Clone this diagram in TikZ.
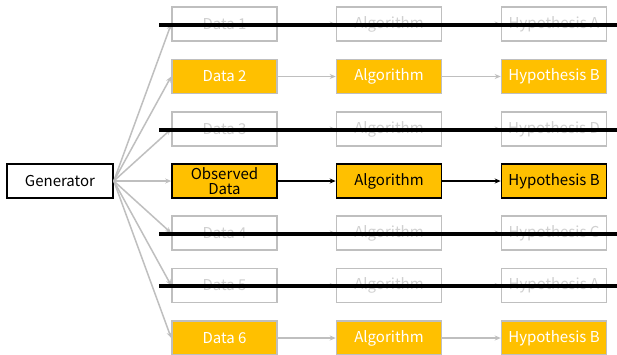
\documentclass[tikz,border=0pt]{standalone}
\usepackage{fontspec}
\setmainfont{Noto Sans CJK JP}
\usetikzlibrary{arrows.meta}
\definecolor{orng}{HTML}{FFC000}
\definecolor{gline}{HTML}{BFBFBF}
\definecolor{gtext}{HTML}{D0D0D0}
\begin{document}
\begin{tikzpicture}[x=1pt,y=-1pt,
  box/.style={minimum width=105pt,minimum height=34pt,inner sep=0pt,font=\fontsize{15}{15}\selectfont,line width=1.6pt},
  ghost/.style={box,draw=gline,fill=white,text=gtext},
  live/.style={box,draw=gline,fill=orng,text=white},
  obs/.style={box,draw=black,fill=orng,text=black,align=center},
  genbox/.style={box,draw=black,fill=white,text=black,minimum width=106pt},
  garrow/.style={draw=gline,line width=1.5pt,-{Stealth[length=6pt,width=5pt]}},
  barrow/.style={draw=black,line width=1.3pt,-{Stealth[length=6pt,width=5pt]}},
  strike/.style={line width=4pt,black}]
\useasboundingbox (0,0) rectangle (617,354);
\fill[white] (0,0) rectangle (617,354);
\node[genbox] (gen) at (60,181) {Generator};
% row nodes
\node[ghost] (d1) at (224.5,24) {Data 1};
\node[ghost] (a1) at (389,24) {Algorithm};
\node[ghost] (h1) at (554,24) {Hypothesis A};
\node[live] (d2) at (224.5,76.5) {Data 2};
\node[live] (a2) at (389,76.5) {Algorithm};
\node[live] (h2) at (554,76.5) {Hypothesis B};
\node[ghost] (d3) at (224.5,129) {Data 3};
\node[ghost] (a3) at (389,129) {Algorithm};
\node[ghost] (h3) at (554,129) {Hypothesis D};
\node[obs] (d4) at (224.5,181) {Observed\\Data};
\node[obs] (a4) at (389,181) {Algorithm};
\node[obs] (h4) at (554,181) {Hypothesis B};
\node[ghost] (d5) at (224.5,233) {Data 4};
\node[ghost] (a5) at (389,233) {Algorithm};
\node[ghost] (h5) at (554,233) {Hypothesis C};
\node[ghost] (d6) at (224.5,285.5) {Data 5};
\node[ghost] (a6) at (389,285.5) {Algorithm};
\node[ghost] (h6) at (554,285.5) {Hypothesis A};
\node[live] (d7) at (224.5,338) {Data 6};
\node[live] (a7) at (389,338) {Algorithm};
\node[live] (h7) at (554,338) {Hypothesis B};
% connectors
\foreach \i in {1,2,3,4,5,6,7} {\draw[garrow] (gen.east) -- (d\i.west);}
\foreach \i in {1,2,3,5,6,7} {\draw[garrow] (d\i) -- (a\i); \draw[garrow] (a\i) -- (h\i);}
\draw[barrow] (d4) -- (a4);
\draw[barrow] (a4) -- (h4);
% strike lines
\coordinate (s1a) at (159,25); \coordinate (s1b) at (617,25);
\coordinate (s3a) at (159,129.5); \coordinate (s3b) at (617,129.5);
\coordinate (s5a) at (159,233.5); \coordinate (s5b) at (617,233.5);
\coordinate (s6a) at (159,286); \coordinate (s6b) at (617,286);
\foreach \s in {1,3,5,6} {\draw[strike] (s\s a) -- (s\s b);}
\end{tikzpicture}
\end{document}
